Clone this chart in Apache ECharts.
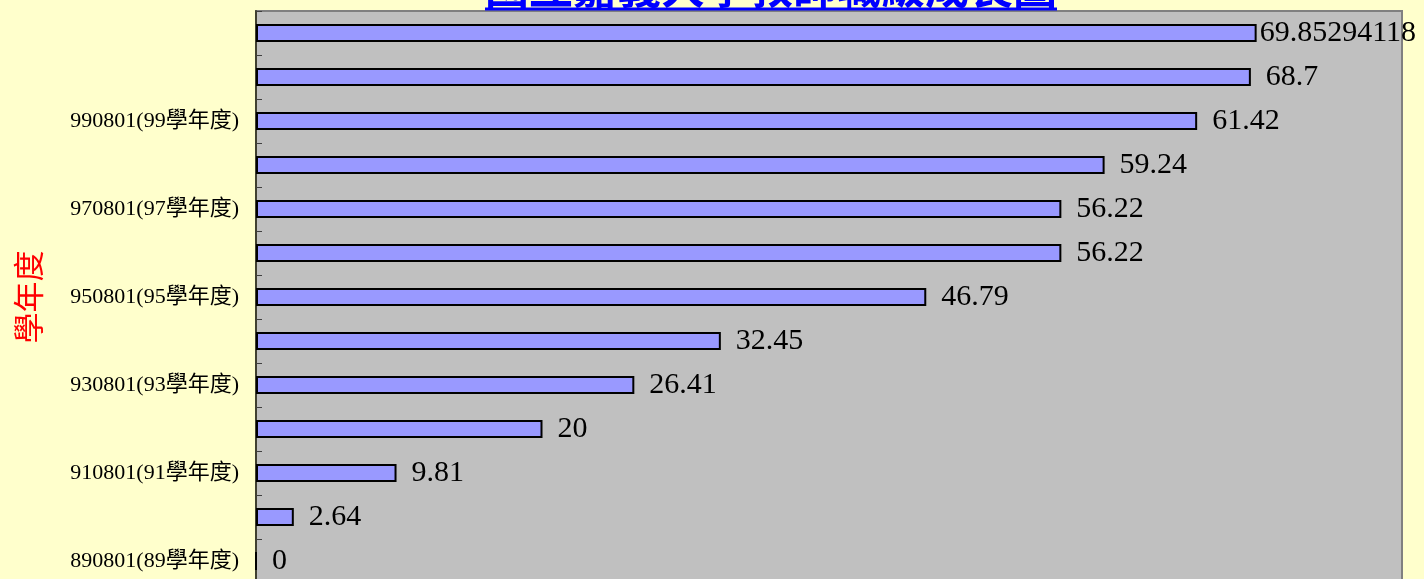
<!DOCTYPE html>
<html>
<head>
<meta charset="utf-8">
<script src="https://cdn.jsdelivr.net/npm/echarts@6/dist/echarts.min.js"></script>
<style>
html,body{margin:0;padding:0;background:#ffffcc;overflow:hidden;}
#c{width:1424px;height:610px;}
</style>
</head>
<body>
<div id="c"></div>
<script>
const titleText = '國立嘉義大學教師職級成長圖';
const axisName = '學年度';
const categories = ['890801(89學年度)','900801(90學年度)','910801(91學年度)','920801(92學年度)','930801(93學年度)','940801(94學年度)','950801(95學年度)','960801(96學年度)','970801(97學年度)','980801(98學年度)','990801(99學年度)','1000801(100學年度)','1010801(101學年度)'];
const values = [0, 2.64, 9.81, 20, 26.41, 32.45, 46.79, 56.22, 56.22, 59.24, 65.7, 69.45, 69.85294118];
const labelTexts = ['0','2.64','9.81','20','26.41','32.45','46.79','56.22','56.22','59.24','61.42','68.7','69.85294118'];

const chart = echarts.init(document.getElementById('c'));
const serif = '"Liberation Serif", "Noto Sans CJK TC", serif';
chart.setOption({
  backgroundColor: '#ffffcc',
  animation: false,
  title: {
    text: titleText,
    left: 485,
    top: -35,
    padding: 0,
    textStyle: {color: '#0000ff', fontSize: 44, fontWeight: 'bold', fontFamily: '"Noto Sans CJK TC", sans-serif'}
  },
  grid: {
    left: 256, top: 11, width: 1146, height: 572,
    show: true, backgroundColor: '#c0c0c0', borderColor: '#808080', borderWidth: 2
  },
  xAxis: {
    type: 'value', min: 0, max: 80, show: false, splitLine: {show: false}
  },
  yAxis: {
    type: 'category',
    data: categories,
    name: axisName,
    nameLocation: 'middle',
    nameRotate: 90,
    nameGap: 212,
    nameTextStyle: {color: '#ff0000', fontSize: 31, fontFamily: '"Noto Sans CJK TC", serif'},
    axisLine: {show: true, lineStyle: {color: '#404030', width: 2}},
    axisTick: {show: true, inside: true, interval: 0, length: 6, lineStyle: {color: '#404040', width: 1}},
    axisLabel: {
      interval: function (i) { return i % 2 === 0 && i < 12; },
      margin: 17,
      color: '#000',
      fontSize: 22,
      fontFamily: serif
    }
  },
  series: [{
    type: 'bar',
    data: values.map(function (v, i) {
      const d = {value: v};
      if (i === values.length - 1) d.label = {distance: 3};
      return d;
    }),
    barWidth: 18,
    itemStyle: {color: '#9999ff', borderColor: '#000', borderWidth: 2},
    label: {
      show: true,
      position: 'right',
      distance: 15,
      color: '#000',
      fontSize: 30,
      fontFamily: serif,
      formatter: function (p) { return labelTexts[p.dataIndex]; }
    }
  }],
  graphic: []
});

// underline under title, measured from the rendered title
const model = chart.getModel().getComponent('title');
const titleView = chart.getViewOfComponentModel(model);
let rect = null;
try { rect = titleView.group.getBoundingRect(); } catch (e) {}
if (rect) {
  const tr = titleView.group.transform || [1,0,0,1,0,0];
  const x0 = rect.x * tr[0] + tr[4], x1 = (rect.x + rect.width) * tr[0] + tr[4];
  const y1 = (rect.y + rect.height) * tr[3] + tr[5];
  chart.setOption({graphic: [{type: 'line', shape: {x1: x0, y1: y1, x2: x1, y2: y1}, style: {stroke: '#0000ff', lineWidth: 3}, z: 100}]});
}
</script>
</body>
</html>
